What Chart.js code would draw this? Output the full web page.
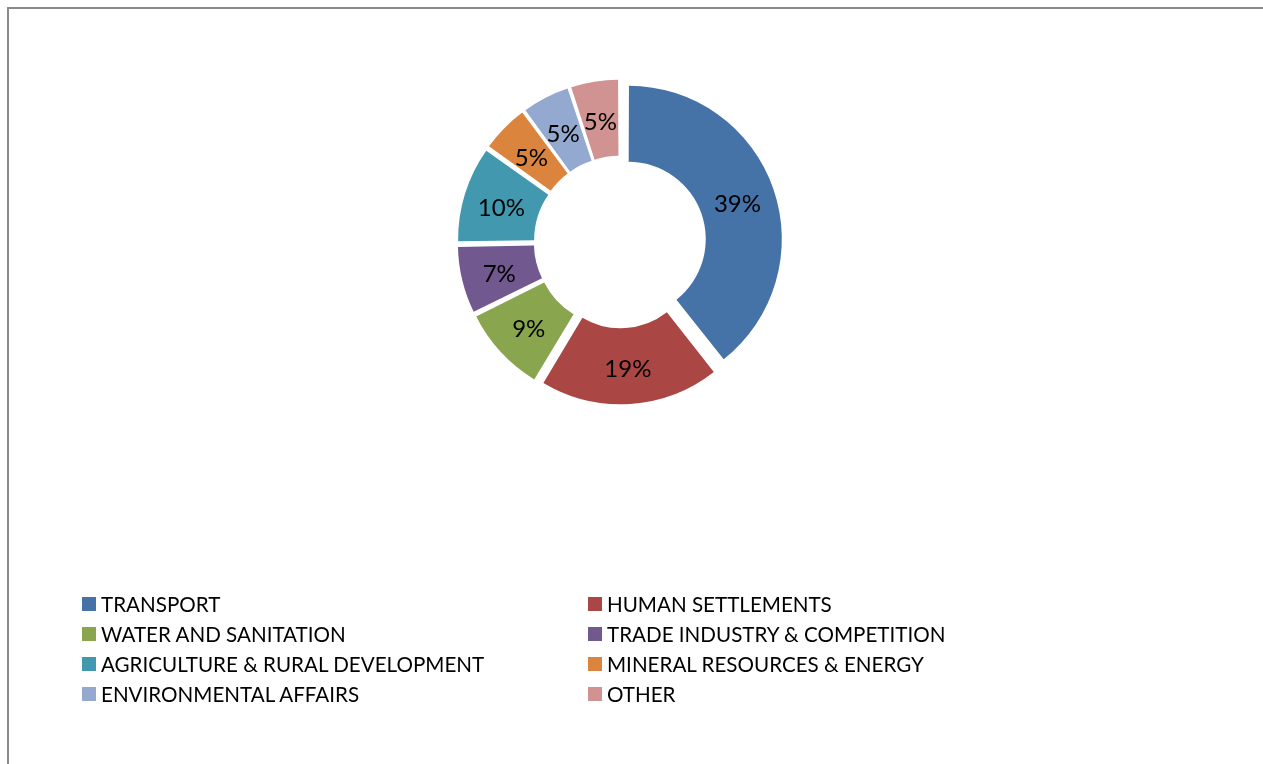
<!DOCTYPE html>
<html>
<head>
<meta charset="utf-8">
<script src="https://cdn.jsdelivr.net/npm/chart.js@4/dist/chart.umd.min.js"></script>
<style>
  html, body { margin: 0; padding: 0; background: #fff; }
  body { width: 1263px; height: 764px; position: relative; overflow: hidden; font-family: Lato, "Open Sans", sans-serif; }
  #frame { position: absolute; left: 7px; top: 7px; width: 1270px; height: 770px;
           border-top: 2px solid #8a8a8a; border-left: 2px solid #8a8a8a; box-sizing: border-box; }
  #chart { position: absolute; left: 0; top: 0; }
  .item { position: absolute; height: 24px; line-height: 24px; font-size: 20.6px; color: #000; white-space: nowrap; }
  .swatch { position: absolute; width: 14px; height: 14px; }
</style>
</head>
<body>
<div id="frame"></div>
<canvas id="chart" width="1263" height="764"></canvas>
<div id="legend"></div>
<script>
// Spending share by sector (%)
const categories = [
  'TRANSPORT',
  'HUMAN SETTLEMENTS',
  'WATER AND SANITATION',
  'TRADE INDUSTRY & COMPETITION',
  'AGRICULTURE & RURAL DEVELOPMENT',
  'MINERAL RESOURCES & ENERGY',
  'ENVIRONMENTAL AFFAIRS',
  'OTHER'
];
const shares = [39, 19, 9, 7, 10, 5, 5, 5];
const sliceColors = ['#4572A7', '#AA4643', '#89A54E', '#71588F', '#4198AF', '#DB843D', '#93A9CF', '#D19392'];

// every slice is pushed out from the centre by the same distance
const EXPLODE = 12.3;
const shareTotal = shares.reduce((a, b) => a + b, 0);

// Chart.js scales the arc offset by the arc's sweep; invert that so the push is uniform
function sliceOffset(ctx) {
  const v = ctx.dataset.data[ctx.dataIndex];
  const circ = v / shareTotal * Math.PI * 2;
  const fix = 1 - Math.sin(Math.min(Math.PI, circ));
  return 4 * EXPLODE / (1 + fix);
}

// percentage labels in the middle of each ring segment
const sliceLabels = {
  id: 'sliceLabels',
  afterDatasetsDraw(chart) {
    const ctx = chart.ctx;
    const meta = chart.getDatasetMeta(0);
    const data = chart.data.datasets[0].data;
    ctx.save();
    ctx.font = '24px Lato, "Open Sans", sans-serif';
    ctx.fillStyle = '#000';
    ctx.textAlign = 'center';
    ctx.textBaseline = 'middle';
    meta.data.forEach((arc, i) => {
      const p = arc.getProps(['x', 'y', 'startAngle', 'endAngle', 'innerRadius', 'outerRadius'], true);
      const mid = (p.startAngle + p.endAngle) / 2;
      const circ = p.endAngle - p.startAngle;
      const off = (arc.options.offset || 0) / 4;
      const push = off * (1 + (1 - Math.sin(Math.min(Math.PI, circ))));
      const r = (p.innerRadius + p.outerRadius) / 2 + push;
      ctx.fillText(data[i] + '%', p.x + Math.cos(mid) * r, p.y + Math.sin(mid) * r + 3);
    });
    ctx.restore();
  }
};

new Chart(document.getElementById('chart'), {
  type: 'doughnut',
  data: {
    labels: categories,
    datasets: [{
      data: shares,
      backgroundColor: sliceColors,
      borderWidth: 0,
      offset: sliceOffset,
      hoverOffset: 0
    }]
  },
  options: {
    responsive: false,
    animation: false,
    radius: 150,
    cutout: '49.3%',
    layout: { padding: { left: 420, right: 443, top: 42, bottom: 322 } },
    plugins: {
      legend: { display: false },
      tooltip: { enabled: false }
    }
  },
  plugins: [sliceLabels]
});

// two-column legend below the ring
const legend = document.getElementById('legend');
const colX = [82, 588];
categories.forEach((name, i) => {
  const col = i % 2, row = Math.floor(i / 2);
  const cy = 604 + row * 30;
  const sw = document.createElement('div');
  sw.className = 'swatch';
  sw.style.left = colX[col] + 'px';
  sw.style.top = (cy - 7) + 'px';
  sw.style.background = sliceColors[i];
  legend.appendChild(sw);
  const t = document.createElement('div');
  t.className = 'item';
  t.style.left = (colX[col] + 19) + 'px';
  t.style.top = (cy - 12) + 'px';
  t.textContent = name;
  legend.appendChild(t);
});
</script>
</body>
</html>
